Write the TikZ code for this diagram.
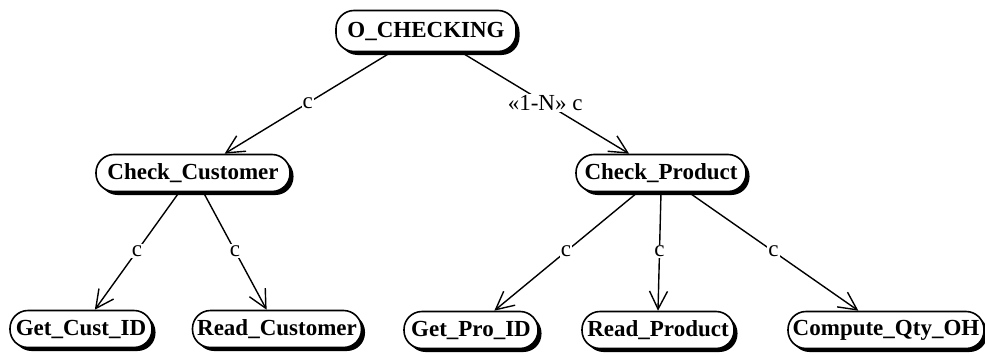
\documentclass[tikz,border=0pt]{standalone}
\usepackage{fontspec}
\setmainfont{Liberation Serif}
\usetikzlibrary{arrows.meta,shadows}

\begin{document}
\begin{tikzpicture}[x=1pt, y=-1pt,
          unit/.style={draw, line width=1.6pt, fill=white, rounded corners=18pt,
                       minimum height=37pt, inner sep=0,
                       font=\fontsize{23}{25}\selectfont\bfseries,
                       drop shadow={shadow xshift=3.5pt, shadow yshift=-3.5pt,
                                    fill=black, opacity=1}},
          conn/.style={line width=1.4pt,
                       -{Straight Barb[length=18pt, width=18pt, line width=1.4pt]}},
          lbl/.style={font=\fontsize{23}{25}\selectfont, fill=white, inner sep=1pt}
        ]
        \useasboundingbox (0,0) rectangle (985,356);

        % ---- root ----
        \node[unit, minimum width=180pt, minimum height=41pt] (ocheck) at (426, 31) {O\_CHECKING};

        % ---- second level ----
        \node[unit, minimum width=194pt] (chkcust) at (193, 173) {Check\_Customer};
        \node[unit, minimum width=170pt] (chkprod) at (661, 173) {Check\_Product};

        % ---- leaves ----
        \node[unit, minimum width=142pt] (getcust) at (81, 329)  {Get\_Cust\_ID};
        \node[unit, minimum width=169pt] (rdcust)  at (277, 329) {Read\_Customer};
        \node[unit, minimum width=134pt] (getpro)  at (471, 330) {Get\_Pro\_ID};
        \node[unit, minimum width=152pt] (rdprod)  at (658, 330) {Read\_Product};
        \node[unit, minimum width=196pt] (qtyoh)   at (886, 330) {Compute\_Qty\_OH};

        % ---- calls ----
        \draw[conn] (ocheck) -- node[lbl] {c} (chkcust);
        \draw[conn] (ocheck) -- node[lbl] {«1-N» c} (chkprod);

        \draw[conn] (chkcust) -- node[lbl] {c} (getcust);
        \draw[conn] (chkcust) -- node[lbl] {c} (rdcust);

        \draw[conn] (chkprod) -- node[lbl] {c} (getpro);
        \draw[conn] (chkprod.south) -- node[lbl] {c} (rdprod.north);
        \draw[conn] (chkprod) -- node[lbl] {c} (qtyoh);

      \end{tikzpicture}
\end{document}
